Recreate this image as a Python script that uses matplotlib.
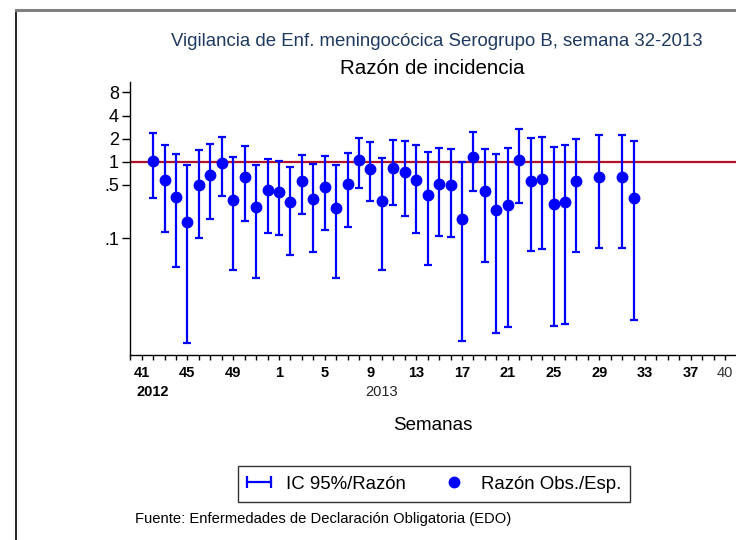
import matplotlib
matplotlib.use('Agg')
from matplotlib import pyplot as plt
from matplotlib.lines import Line2D
from matplotlib.legend_handler import HandlerLine2D
import numpy as np

plt.rcParams['font.family'] = ['Liberation Sans', 'DejaVu Sans']

# semanas en el eje (41-2012 .. 40-2013)
axis_weeks = list(range(41, 53)) + list(range(1, 41))
tick_weeks = [41, 45, 49, 1, 5, 9, 13, 17, 21, 25, 29, 33, 37, 40]

# semanas con dato
weeks = [42, 43, 44, 45, 46, 47, 48, 49, 50, 51, 52,
         1, 2, 3, 4, 5, 6, 7, 8, 9, 10, 11, 12, 13, 14, 15, 16, 17, 18, 19,
         20, 21, 22, 23, 24, 25, 26, 27, 29, 31, 32]
ratio = [1.02, 0.577, 0.347, 0.165, 0.492, 0.664, 0.953, 0.317, 0.632, 0.254, 0.428,
         0.406, 0.295, 0.56, 0.326, 0.472, 0.247, 0.507, 1.05, 0.81, 0.31, 0.828,
         0.734, 0.572, 0.368, 0.517, 0.501, 0.181, 1.14, 0.411, 0.232, 0.275, 1.05,
         0.565, 0.594, 0.283, 0.298, 0.555, 0.626, 0.626, 0.336]
upper = [2.39, 1.67, 1.26, 0.914, 1.42, 1.70, 2.10, 1.14, 1.60, 0.906, 1.07,
         1.03, 0.853, 1.21, 0.933, 1.20, 0.897, 1.31, 2.05, 1.79, 1.12, 1.92,
         1.86, 1.65, 1.34, 1.49, 1.45, 1.0, 2.44, 1.48, 1.27, 1.51, 2.69,
         2.04, 2.12, 1.57, 1.67, 2.0, 2.23, 2.23, 1.85]
lower = [0.333, 0.12, 0.0428, 0.0043, 0.102, 0.181, 0.357, 0.0387, 0.170, 0.0307, 0.116,
         0.112, 0.0607, 0.208, 0.0665, 0.130, 0.0305, 0.142, 0.458, 0.305, 0.0384, 0.27,
         0.198, 0.119, 0.045, 0.107, 0.104, 0.0046, 0.411, 0.0497, 0.0059, 0.0069, 0.292,
         0.068, 0.072, 0.0073, 0.0077, 0.067, 0.075, 0.075, 0.0086]

y_ticks = [0.1, 0.5, 1, 2, 4, 8]
y_tick_labels = ['.1', '.5', '1', '2', '4', '8']

# posicion de cada semana en el eje (2012 primero, luego 2013)
pos = []
year2013 = False
for w in weeks:
    if w < 41:
        year2013 = True
    idx = axis_weeks.index(w) if not year2013 else 12 + w - 1
    pos.append(idx)
pos = np.array(pos)
ratio = np.array(ratio)
yerr = [ratio - np.array(lower), np.array(upper) - ratio]

W, H = 736, 540
fig = plt.figure(figsize=(W / 100, H / 100), dpi=100)
ax = fig.add_axes([130 / W, 1 - 355 / H, 1 - 130 / W, (355 - 81.7) / H])

ax.axhline(1, color='#b0102a', lw=1.6, zorder=1)
ax.errorbar(pos, ratio, yerr=yerr, fmt='none', ecolor='#0000ff', elinewidth=1.6,
            capsize=2.9, capthick=1.6, zorder=2)
ax.plot(pos, ratio, 'o', color='#0000ff', markersize=7.5, zorder=3)

ax.set_yscale('log')
ax.set_ylim(0.00302, 11.04)
ax.set_yticks(y_ticks)
ax.set_yticklabels(y_tick_labels, fontsize=13)
ax.yaxis.set_minor_locator(matplotlib.ticker.NullLocator())
ax.tick_params(axis='y', length=6, width=1, pad=2)

ax.set_xlim(-1.02, 51.95)
ax.set_xticks([axis_weeks.index(w) if w >= 41 and i < 3 else 12 + w - 1
               for i, w in enumerate(tick_weeks)])
ax.set_xticklabels([str(w) for w in tick_weeks], fontsize=10.5, fontweight='bold')
ax.xaxis.set_minor_locator(matplotlib.ticker.MultipleLocator(1))
ax.tick_params(axis='x', which='both', length=3.5, width=1, pad=4.5)
ax.get_xticklabels()[-1].set_fontweight('normal')
ax.get_xticklabels()[-1].set_color('#333333')

for s in ['top', 'right']:
    ax.spines[s].set_visible(False)
for s in ['left', 'bottom']:
    ax.spines[s].set_linewidth(1)

ax.annotate('2012', xy=(0, 0), xycoords=('data', 'axes fraction'),
            xytext=(-3.6, -26.4), textcoords='offset points',
            ha='left', va='center', fontsize=10.5, fontweight='bold')
ax.annotate('2013', xy=(20, 0), xycoords=('data', 'axes fraction'),
            xytext=(-3.6, -26.4), textcoords='offset points',
            ha='left', va='center', fontsize=10.5, color='#222222')

fig.text(437 / W, 1 - 41 / H, 'Vigilancia de Enf. meningocócica Serogrupo B, semana 32-2013',
         ha='center', va='center', fontsize=13.4, color='#1f3a60')
fig.text(432 / W, 1 - 68 / H, 'Razón de incidencia', ha='center', va='center', fontsize=14.8)
fig.text(433 / W, 1 - 426 / H, 'Semanas', ha='center', va='center', fontsize=13.5)
fig.text(135 / W, 1 - 519 / H, 'Fuente: Enfermedades de Declaración Obligatoria (EDO)',
         ha='left', va='center', fontsize=10.6)

# leyenda
h_ci = Line2D([], [], color='#0000ff', lw=1.6, marker='|', markersize=8, markeredgewidth=1.6)
h_pt = Line2D([], [], color='#0000ff', lw=0, marker='o', markersize=7.5)
leg = fig.legend([h_ci, h_pt], ['IC 95%/Razón', 'Razón Obs./Esp.'],
                 handler_map={h_ci: HandlerLine2D(numpoints=2, marker_pad=0),
                              h_pt: HandlerLine2D(numpoints=1)},
                 loc='center', bbox_to_anchor=(434 / W, 1 - 484 / H), ncol=2,
                 fontsize=13.4, frameon=True, fancybox=False, edgecolor='black',
                 handlelength=1.3, columnspacing=1.9, handletextpad=0.8,
                 borderpad=0.5, borderaxespad=0)
leg.get_frame().set_linewidth(1)

# marco de la imagen
fig.add_artist(Line2D([16 / W, 16 / W], [0, 1 - 10 / H], color='black', lw=1.2,
                      transform=fig.transFigure))
fig.add_artist(Line2D([16 / W, 1], [1 - 10 / H, 1 - 10 / H], color='#808080', lw=2.2,
                      transform=fig.transFigure))

fig.savefig('out.png', dpi=100)
